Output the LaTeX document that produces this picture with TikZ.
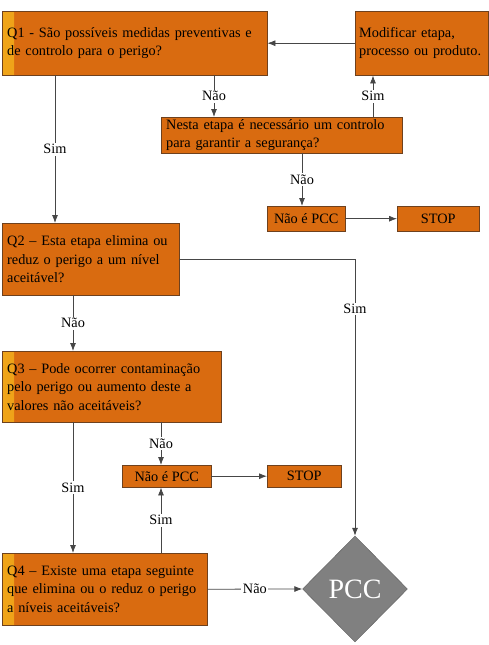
\documentclass[tikz,border=0pt]{standalone}
\usepackage{fontspec}
\setmainfont{Liberation Serif}
\usetikzlibrary{shapes.geometric,arrows.meta}
\hyphenpenalty=10000
\definecolor{boxorange}{RGB}{217,107,16}
\definecolor{boxline}{RGB}{110,65,30}
\definecolor{boxglow}{RGB}{240,165,25}
\definecolor{pccgrey}{RGB}{128,128,128}
\definecolor{pccline}{RGB}{95,95,95}
\definecolor{linegrey}{RGB}{70,70,70}
\tikzset{
    qbox/.style={draw=boxline, fill=boxorange, anchor=north west, align=left, inner xsep=5pt, inner ysep=0pt, font=\fontsize{14.3}{18.5}\selectfont},
    sbox/.style={draw=boxline, fill=boxorange, anchor=north west, inner sep=0pt, font=\fontsize{14.3}{18}\selectfont},
    glow/.style={path picture={\shade[left color=boxglow, right color=boxorange] (path picture bounding box.north west) rectangle ([xshift=12pt]path picture bounding box.south west);}},
    lbl/.style={fill=white, inner sep=1.5pt, font=\fontsize{14.3}{18}\selectfont},
    arr/.style={draw=linegrey, line width=0.8pt, -{Latex[length=8pt,width=6pt]}}
}
\begin{document}
\begin{tikzpicture}[x=1pt, y=-1pt]
            \useasboundingbox (0,0) rectangle (489,645);
            \node[qbox, glow, minimum width=265, minimum height=64, text width=255pt] (q1) at (2,11) {Q1 - São possíveis medidas preventivas e\\de controlo para o perigo?};
            \node[qbox, minimum width=133, minimum height=64, inner xsep=4pt, text width=125pt] (mod) at (355,11) {Modificar etapa,\\processo ou produto.};
            \node[qbox, minimum width=241, minimum height=36, text width=231pt] (nesta) at (161,117) {Nesta etapa é necessário um controlo\\para garantir a segurança?};
            \node[sbox, minimum width=78, minimum height=25] (npcc1) at (267,206) {Não é PCC};
            \node[sbox, minimum width=82, minimum height=25] (stop1) at (397,206) {STOP};
            \node[qbox, minimum width=177, minimum height=72, text width=167pt] (q2) at (2,223) {Q2 – Esta etapa elimina ou\\reduz o perigo a um nível\\aceitável?};
            \node[qbox, glow, minimum width=219, minimum height=71, text width=209pt] (q3) at (2,351) {Q3 – Pode ocorrer contaminação\\pelo perigo ou aumento deste a\\valores não aceitáveis?};
            \node[sbox, minimum width=89, minimum height=22] (npcc2) at (122,465) {Não é PCC};
            \node[sbox, minimum width=74, minimum height=22] (stop2) at (267,465) {STOP};
            \node[qbox, glow, minimum width=205, minimum height=72, text width=195pt] (q4) at (2,553) {Q4 – Existe uma etapa seguinte\\que elimina ou o reduz o perigo\\a níveis aceitáveis?};
            \node[diamond, draw=pccline, fill=pccgrey, minimum width=105, minimum height=106, inner sep=0pt, text=white, font=\fontsize{28}{28}\selectfont] (pcc) at (355,589) {PCC};
            \draw[arr] (mod) -- (q1);
            \draw[arr] ([xshift=212pt]q1.south west) -- node[lbl] {Não} ([xshift=53pt]nesta.north west);
            \draw[arr] ([xshift=212pt]nesta.north west) -- node[lbl] {Sim} ([xshift=18pt]mod.south west);
            \draw[arr] ([xshift=53pt]q1.south west) -- node[lbl] {Sim} ([xshift=53pt]q2.north west);
            \draw[arr] ([xshift=141pt]nesta.south west) -- node[lbl] {Não} ([xshift=35pt]npcc1.north west);
            \draw[arr] (npcc1) -- (stop1);
            \draw[arr] (q2.east) -| node[lbl, pos=0.59] {Sim} (pcc.north);
            \draw[arr] ([xshift=71pt]q2.south west) -- node[lbl] {Não} ([xshift=71pt]q3.north west);
            \draw[arr] ([xshift=71pt]q3.south west) -- node[lbl] {Sim} ([xshift=71pt]q4.north west);
            \draw[arr] ([xshift=159pt]q3.south west) -- node[lbl] {Não} ([xshift=39pt]npcc2.north west);
            \draw[arr] ([xshift=159pt]q4.north west) -- node[lbl] {Sim} ([xshift=39pt]npcc2.south west);
            \draw[arr] (npcc2) -- (stop2);
            \draw[arr] (q4.east) -- node[lbl] {Não} (pcc.west);
        \end{tikzpicture}
\end{document}
